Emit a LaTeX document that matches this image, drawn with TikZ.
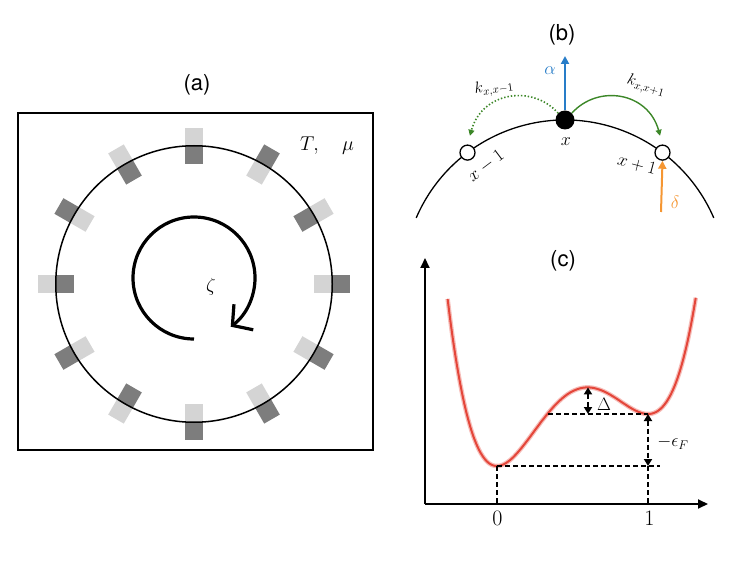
\documentclass[tikz,border=0pt]{standalone}
\usepackage{fix-cm}
\usepackage{fontspec}
\usetikzlibrary{arrows.meta}
\newfontfamily\helv{TeX Gyre Heros}
\definecolor{lightsq}{RGB}{212,212,212}
\definecolor{darksq}{RGB}{125,125,125}
\definecolor{alphablue}{RGB}{40,125,200}
\definecolor{deltaorange}{RGB}{245,150,50}
\definecolor{hopgreen}{RGB}{60,135,40}
\definecolor{curvered}{RGB}{228,70,58}
\tikzset{
  panellabel/.style={font=\helv\fontsize{22}{26}\selectfont, inner sep=0pt},
  sq/.style={minimum size=18pt, inner sep=0pt, draw=none},
  ring/.style={line width=1.5pt},
  spiral/.style={line width=3.2pt, -{Straight Barb[length=14pt, width=32pt, sharp]}},
  opencirc/.style={circle, draw, fill=white, line width=1.3pt, minimum size=15pt, inner sep=0pt},
  blackdot/.style={circle, fill=black, minimum size=19pt, inner sep=0pt},
  vecarrow/.style={line width=2pt, -{Triangle[length=8pt, width=8pt]}},
  hop/.style={hopgreen, line width=1.4pt, -{Triangle[length=6pt, width=6pt]}},
  lbl/.style={font=\fontsize{18}{21}\selectfont, inner sep=0pt},
  klbl/.style={font=\fontsize{16}{19}\selectfont, inner sep=0pt},
  axisline/.style={line width=2pt, -{Triangle[length=10pt, width=9pt]}},
  dashline/.style={line width=1.8pt, dash pattern=on 5pt off 3pt},
  dashtips/.style={dashline, {Triangle[length=7pt, width=8pt]}-{Triangle[length=7pt, width=8pt]}},
}
\begin{document}
\begin{tikzpicture}[x=1pt, y=-1pt]
\useasboundingbox (0,0) rectangle (747,561);

% ---------------- panel (a) ----------------
\node[panellabel] (la) at (197,85) {(a)};
\draw[line width=2pt] (17.7,113.3) rectangle (373.3,450);
\foreach \ang/\outc/\inc [count=\i] in {90/lightsq/darksq, 60/darksq/lightsq, 30/lightsq/darksq, 0/darksq/lightsq, -30/darksq/lightsq, -60/darksq/lightsq, -90/darksq/lightsq, -120/lightsq/darksq, -150/darksq/lightsq, 180/lightsq/darksq, 150/darksq/lightsq, 120/lightsq/darksq}
{
  \node[sq, fill=\inc, rotate=\ang] (sqin\i) at ({194+129*cos(\ang)},{284-129*sin(\ang)}) {};
  \node[sq, fill=\outc, rotate=\ang] (sqout\i) at ({194+147*cos(\ang)},{284-147*sin(\ang)}) {};
}
\node[circle, draw, ring, minimum size=276.5pt, inner sep=0pt] (ringc) at (194,284) {};
\draw[spiral] (194,339) arc[start angle=-270, end angle=53, radius=61];
\node[font=\fontsize{19}{22}\selectfont, inner sep=0pt] (zeta) at (211,287) {$\zeta$};
\node[font=\fontsize{20}{23}\selectfont, inner sep=0pt] (Tmu) at (327,146) {$T,\quad\mu$};

% ---------------- panel (b) ----------------
\node[panellabel] (lb) at (562,35) {(b)};
\draw[line width=1.3pt] (416.2,217.9) arc[start angle=-156.7, end angle=-23.3, radius=162];
\node[opencirc] (xm1) at (467.5,152.6) {};
\node[blackdot] (x0) at (565,120) {};
\node[opencirc] (xp1) at (662.5,152.6) {};
\coordinate (alphatip) at (565,56);
\coordinate (deltabase) at (661,212);
\draw[vecarrow, alphablue] (x0.north) -- (alphatip);
\draw[vecarrow, deltaorange] (deltabase) -- (xp1.south);
\node[lbl, text=alphablue] (alab) at (550,71) {$\alpha$};
\node[lbl, text=deltaorange] (dlab) at (675,202) {$\delta$};
\draw[hop, shorten >=9pt] (x0.45) .. controls (598,84) and (648,92) .. (xp1.north);
\draw[hop, dotted, line width=1.6pt, shorten >=9pt] (x0.135) .. controls (532,84) and (482,92) .. (xm1.north);
\node[klbl, rotate=8] (kml) at (494,88) {$k_{x,x-1}$};
\node[klbl, rotate=-16] (kpl) at (646,86) {$k_{x,x+1}$};
\node[lbl] (xl) at (566,142) {$x$};
\node[lbl, rotate=37] (xml) at (486,166) {$x-1$};
\node[lbl, rotate=-15] (xpl) at (637,165) {$x+1$};

% ---------------- panel (c) ----------------
\node[panellabel] (lc) at (563,261) {(c)};
\coordinate (origin) at (425,504);
\coordinate (ytip) at (425,258);
\coordinate (xtip) at (708,504);
\draw[axisline] (origin) -- (ytip);
\draw[axisline] (origin) -- (xtip);
\draw[curvered!35, line width=4.5pt] plot[domain=-0.327:1.318, samples=120, smooth]
  ({497+151*\x}, {466-3120*(\x*\x*\x*\x/4-1.6*\x*\x*\x/3+0.3*\x*\x)});
\draw[curvered, line width=2pt] plot[domain=-0.327:1.318, samples=120, smooth]
  ({497+151*\x}, {466-3120*(\x*\x*\x*\x/4-1.6*\x*\x*\x/3+0.3*\x*\x)});
\coordinate (min0) at (497,466);
\coordinate (min1) at (648,414);
\coordinate (barr) at (588,387.4);
\coordinate (hend0) at (660,466);
\coordinate (hstart1) at (548,414);
\draw[dashline] (min0) -- (hend0);
\draw[dashline] (min0) -- (min0 |- origin);
\draw[dashline] (hstart1) -- (min1);
\draw[dashtips] (min1) -- (min1 |- min0);
\draw[dashline] (min1 |- min0) -- (min1 |- origin);
\draw[dashtips] (barr) -- (barr |- min1);
\node[font=\fontsize{18}{21}\selectfont, inner sep=0pt] (dellab) at (604,404) {$\Delta$};
\node[font=\fontsize{18}{21}\selectfont, inner sep=0pt] (epslab) at (673,443) {$-\epsilon_F$};
\node[font=\fontsize{22}{26}\selectfont, inner sep=0pt] (t0) at (497.5,518) {0};
\node[font=\fontsize{22}{26}\selectfont, inner sep=0pt] (t1) at (649.5,518) {1};
\end{tikzpicture}
\end{document}
